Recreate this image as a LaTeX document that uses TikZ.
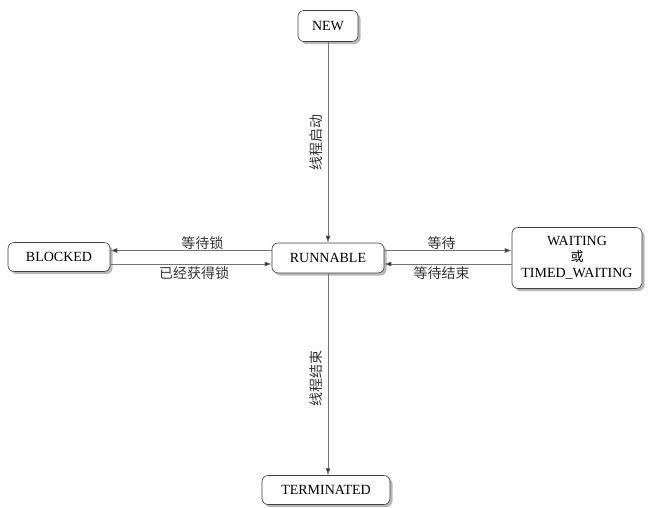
\documentclass[tikz,border=0pt]{standalone}
\usepackage{fontspec}
\setmainfont{Liberation Serif}
\newfontfamily\cjk{Noto Sans CJK SC}
\usetikzlibrary{arrows.meta,shadows}
\begin{document}
\begin{tikzpicture}[x=1pt,y=-1pt,
  state/.style={draw=black!75, line width=0.6pt, fill=white, rounded corners=6pt,
    font=\fontsize{14}{16}\selectfont, inner sep=2pt, align=center,
    drop shadow={shadow xshift=2.5pt, shadow yshift=-2.5pt, fill=black!35, opacity=0.8}},
  edge/.style={draw=black!55, line width=0.6pt,
    -{Latex[length=7pt,width=5pt,fill=black!85]}},
  lbl/.style={font=\cjk\fontsize{14}{16}\selectfont, text=black!80, inner sep=2pt}]
  \useasboundingbox (0,0) rectangle (649,507);

  % states
  \node[state, minimum width=60, minimum height=31] (new) at (328,26) {NEW};
  \node[state, minimum width=112, minimum height=30] (run) at (328,258) {RUNNABLE};
  \node[state, minimum width=102, minimum height=29] (blk) at (59,257) {BLOCKED};
  \node[state, minimum width=130, minimum height=61] (wait) at (577,258)
    {WAITING\\{\cjk\fontsize{13}{16}\selectfont 或}\\TIMED\_WAITING};
  \node[state, minimum width=128, minimum height=29] (term) at (326,490) {TERMINATED};

  % start and end of a thread
  \draw[edge] (new.south -| run.north) -- (run.north)
    node[lbl, pos=0.5, rotate=90, anchor=south, inner sep=5pt] {线程启动};
  \draw[edge] (run.south) -- (run.south |- term.north)
    node[lbl, pos=0.52, rotate=90, anchor=south, inner sep=5pt] {线程结束};

  % lock acquisition
  \draw[edge] ([yshift=7.5pt]run.west) -- ([yshift=7.5pt]blk.east |- run.west)
    node[lbl, pos=0.43, above, yshift=-1pt] {等待锁};
  \draw[edge] ([yshift=-6pt]blk.east |- run.west) -- ([yshift=-6pt]run.west)
    node[lbl, pos=0.52, below] {已经获得锁};

  % waiting
  \draw[edge] ([yshift=7.5pt]run.east) -- ([yshift=7.5pt]wait.west)
    node[lbl, pos=0.45, above, yshift=-1pt] {等待};
  \draw[edge] ([yshift=-6pt]wait.west) -- ([yshift=-6pt]run.east)
    node[lbl, pos=0.55, below] {等待结束};
\end{tikzpicture}
\end{document}
